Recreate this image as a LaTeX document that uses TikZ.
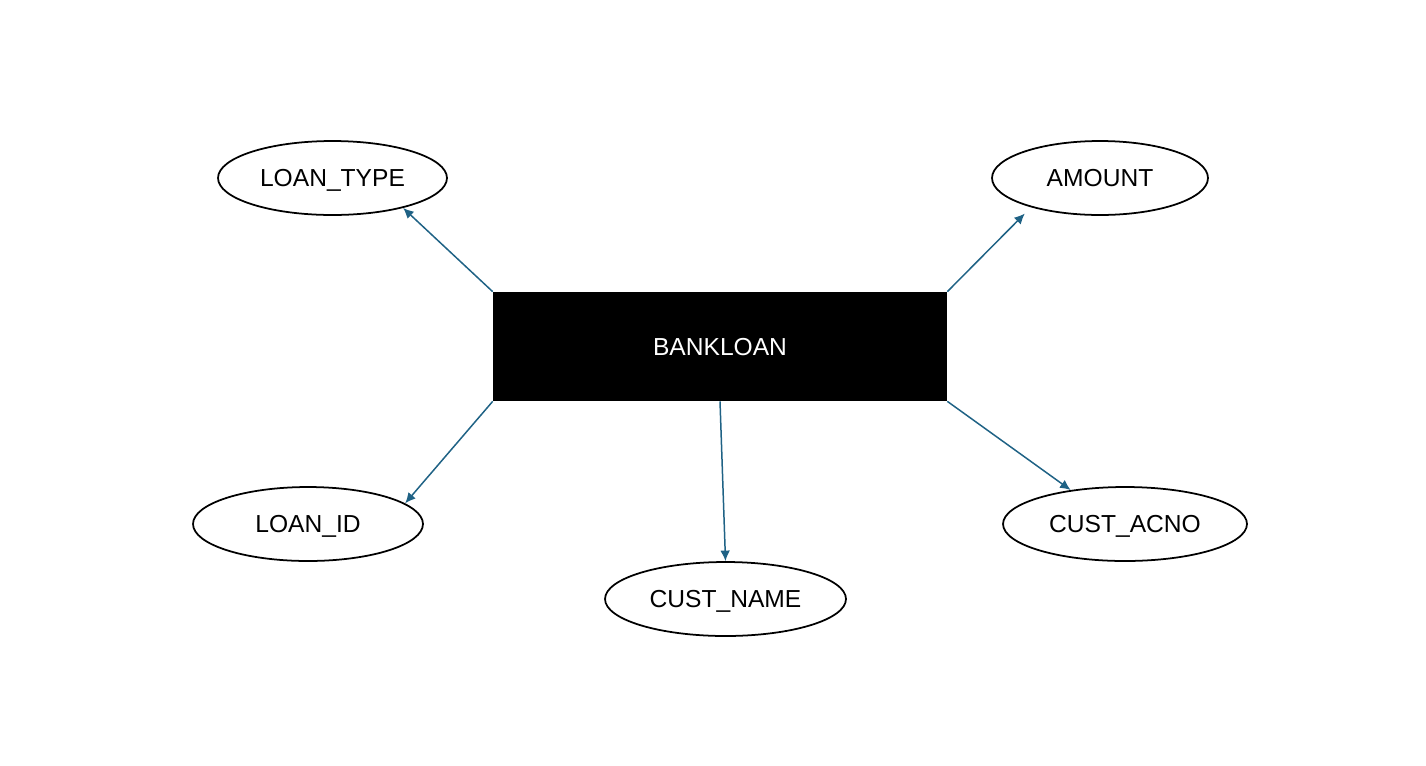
\documentclass[tikz,border=0pt]{standalone}
\usepackage{fontspec}
\setmainfont{Liberation Sans}
\usepackage{xcolor}
\usetikzlibrary{shapes.geometric, arrows.meta}

\definecolor{linkblue}{RGB}{31,98,133}

\begin{document}
\begin{tikzpicture}[x=0.02cm, y=-0.02cm, >={Latex[length=6pt,width=5.5pt]},
        entity/.style={rectangle, fill=black, text=white, minimum width=9.08cm, minimum height=2.18cm, inner sep=0pt, text height=10pt, text depth=0pt, font=\fontsize{14}{16}\selectfont},
        attr/.style={ellipse, draw, line width=1pt, minimum height=1.48cm, inner sep=0pt, text height=10pt, text depth=0pt, font=\fontsize{14}{16}\selectfont}]

        \useasboundingbox (0,0) rectangle (1426,765);

        \node[entity] (bank) at (720,346.5) {BANKLOAN};

        \node[attr, minimum width=4.58cm] (ltype) at (332.5,178) {LOAN\_TYPE};
        \node[attr, minimum width=4.32cm] (amount) at (1100,178) {AMOUNT};
        \node[attr, minimum width=4.60cm] (lid) at (308,524) {LOAN\_ID};
        \node[attr, minimum width=4.82cm] (cname) at (725.5,599) {CUST\_NAME};
        \node[attr, minimum width=4.88cm] (acno) at (1125,524) {CUST\_ACNO};

        \path[->, color=linkblue, line width=0.85pt]
        (bank.north west) edge (ltype.-23)
        (bank.north east) edge[shorten >=5pt] (amount.203)
        (bank.south west) edge (lid.12)
        (bank.south) edge (cname.north)
        (bank.south east) edge (acno.148);
    \end{tikzpicture}
\end{document}
